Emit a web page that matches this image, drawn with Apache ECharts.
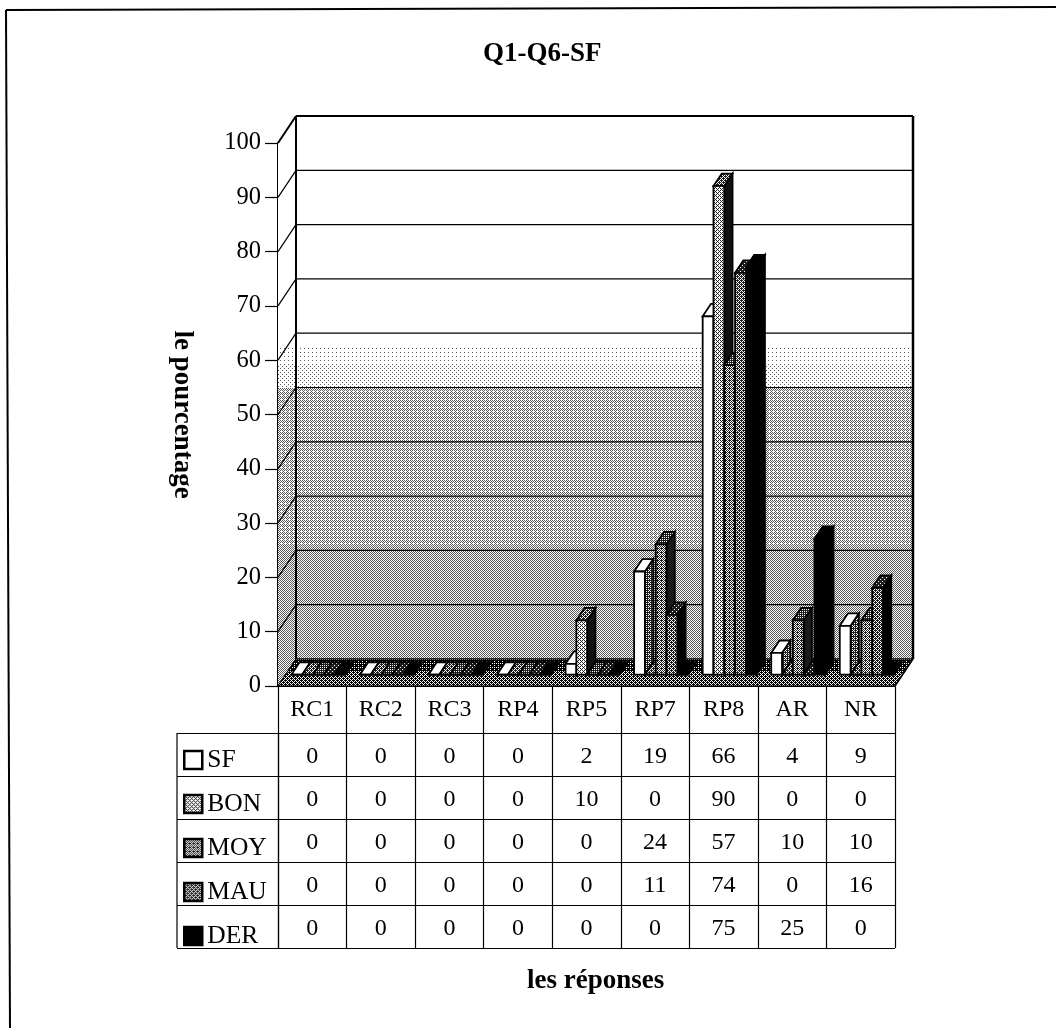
<!DOCTYPE html>
<html><head><meta charset="utf-8">
<script src="https://cdn.jsdelivr.net/npm/echarts@6/dist/echarts.min.js"></script>
<style>html,body{margin:0;padding:0;background:#fff}#c{width:1056px;height:1028px}</style>
</head><body><div id="c"></div>
<script>
const categories = ['RC1','RC2','RC3','RP4','RP5','RP7','RP8','AR','NR'];
const seriesNames = ['SF','BON','MOY','MAU','DER'];
const SF  = [0,0,0,0,2,19,66,4,9];
const BON = [0,0,0,0,10,0,90,0,0];
const MOY = [0,0,0,0,0,24,57,10,10];
const MAU = [0,0,0,0,0,11,74,0,16];
const DER = [0,0,0,0,0,0,75,25,0];
const seriesValues = [SF,BON,MOY,MAU,DER];
const yTicks = [0,10,20,30,40,50,60,70,80,90,100];

const FONT = '"Liberation Serif","Times New Roman",serif';
const BAYER = [[0,8,2,10],[12,4,14,6],[3,11,1,9],[15,7,13,5]];

// ordered-dither tile: level(y) is the average grey wanted on a page row
function ditherTile(w, h, level, dark){
  const c = document.createElement('canvas'); c.width = w; c.height = h;
  const g = c.getContext('2d'), im = g.createImageData(w,h);
  for(let y=0;y<h;y++) for(let x=0;x<w;x++){
    const p = (y*w+x)*4;
    const on = (255-level(y))/(255-dark) > (BAYER[y%4][x%4]+.5)/16;
    const val = on ? dark : 255;
    im.data[p]=im.data[p+1]=im.data[p+2]=val; im.data[p+3]=255;
  }
  g.putImageData(im,0,0);
  return {image:c, repeat:'repeat'};
}
function flat(grey){ return ditherTile(4,4,()=>grey,30); }

const wallFill = ditherTile(4,1028,y=>{
  if(y<345) return 255;
  if(y<388) return 250-(y-345)/43*22;
  if(y<660) return 188-(y-388)/272*18;
  return 170;
},90);
const floorFill = ditherTile(4,1028,y=>{
  if(y<672) return 40;
  return 90;
},0);
const faces = [
  {front:'#ffffff',  side:flat(100), top:'#ffffff'},
  {front:flat(175),  side:'#111111', top:flat(120)},
  {front:flat(130),  side:'#1a1a1a', top:flat(90)},
  {front:flat(110),  side:'#000000', top:flat(60)},
  {front:'#000000',  side:'#000000', top:'#000000'}
];

// oblique depth of the chart box
const DEPTH_X = 18, DEPTH_Y = -27;
// bars stand between these fractions of the depth
const NEAR = 0.42, FAR = 0.88;
const BAR_W = 10.8, BAR_SHIFT = 6;

function poly(points, style){ return {type:'polygon', shape:{points}, style}; }
function line(x1,y1,x2,y2,w){ return {type:'line', shape:{x1,y1,x2,y2}, style:{stroke:'#000',lineWidth:w}}; }

function renderWall(params, api){
  const cs = params.coordSys, L = cs.x, R = cs.x+cs.width;
  const T = api.coord([0,100])[1], B = api.coord([0,0])[1];
  const dx = DEPTH_X, dy = DEPTH_Y;
  const kids = [
    poly([[L+dx,T+dy],[R+dx,T+dy],[R+dx,B+dy],[L+dx,B+dy]],{fill:wallFill}),
    poly([[L,T],[L+dx,T+dy],[L+dx,B+dy],[L,B]],{fill:wallFill})
  ];
  yTicks.forEach(v=>{
    const y = api.coord([0,v])[1];
    kids.push(line(L,y,L+dx,y+dy,v===100?2:1.2));
    kids.push(line(L+dx,y+dy,R+dx,y+dy,v===100?2:1.2));
  });
  kids.push(poly([[L,B],[R,B],[R+dx,B+dy],[L+dx,B+dy]],{fill:floorFill,stroke:'#000',lineWidth:1}));
  kids.push(line(L+dx,T+dy,L+dx,B+dy,2));
  kids.push(line(R+dx,T+dy,R+dx,B+dy,2.5));
  kids.push(line(R,B,R+dx,B+dy,1.5));
  return {type:'group',children:kids};
}

function renderBar(k){
  return function(params, api){
    const i = api.value(0), v = api.value(1);
    const p = api.coord([i,v]), b = api.coord([i,0]);
    const x0 = p[0] + (k-2.5)*BAR_W + BAR_SHIFT + DEPTH_X*NEAR - 7.5;
    const x1 = x0 + BAR_W;
    const oy = DEPTH_Y*NEAR;
    const yT = p[1]+oy, yB = b[1]+oy;
    const ddx = DEPTH_X*(FAR-NEAR), ddy = DEPTH_Y*(FAR-NEAR);
    const f = faces[k], s = {stroke:'#000',lineWidth:1.8};
    return {type:'group',children:[
      poly([[x1,yT],[x1+ddx,yT+ddy],[x1+ddx,yB+ddy],[x1,yB]],Object.assign({fill:f.side},s)),
      poly([[x0,yT],[x0+ddx,yT+ddy],[x1+ddx,yT+ddy],[x1,yT]],Object.assign({fill:f.top},s)),
      {type:'rect',shape:{x:x0,y:yT,width:BAR_W,height:yB-yT},style:Object.assign({fill:f.front},s)}
    ]};
  };
}

function renderCell(params, api){
  const p = api.coord([api.value(0),api.value(1)]);
  return {type:'text',x:p[0],y:p[1]+2,style:{text:String(api.value(2)),font:'24px '+FONT,fill:'#000',align:'center',verticalAlign:'middle'}};
}

const cells = [];
seriesValues.forEach((vals,r)=>vals.forEach((v,c)=>cells.push([c,r,v])));

const chart = echarts.init(document.getElementById('c'),null,{renderer:'canvas'});
chart.setOption({
  animation:false,
  backgroundColor:'#fff',
  title:[
    {text:'Q1-Q6-SF',left:478,top:36,textStyle:{fontFamily:FONT,fontWeight:'bold',fontSize:27,color:'#000'}},
    {text:'les réponses',left:522,top:963,textStyle:{fontFamily:FONT,fontWeight:'bold',fontSize:27,color:'#000'}}
  ],
  grid:[
    {left:278,right:161,top:143,height:543},
    {left:278,right:161,top:733,height:215}
  ],
  xAxis:[
    {type:'category',gridIndex:0,data:categories,axisLabel:{show:false},axisTick:{show:false},axisLine:{lineStyle:{color:'#000',width:2}}},
    {type:'category',gridIndex:1,position:'top',data:categories,
     axisLine:{show:true,lineStyle:{color:'#000',width:1.2}},
     axisTick:{show:true,length:46,lineStyle:{color:'#000',width:1.2}},
     axisLabel:{margin:11,color:'#000',fontFamily:FONT,fontSize:24},
     splitLine:{show:true,lineStyle:{color:'#000',width:1.2}}}
  ],
  yAxis:[
    {type:'value',gridIndex:0,min:0,max:100,interval:10,
     name:'le pourcentage',nameLocation:'middle',nameRotate:-90,nameGap:83,
     nameTextStyle:{fontFamily:FONT,fontWeight:'bold',fontSize:27,color:'#000',padding:[0,0,0,0]},
     axisLine:{show:true,lineStyle:{color:'#000',width:2}},
     axisTick:{show:true,length:13,lineStyle:{color:'#000',width:1.2}},
     axisLabel:{margin:17,color:'#000',fontFamily:FONT,fontSize:24.5,padding:[4,0,0,0]},
     splitLine:{show:false}},
    {type:'category',gridIndex:1,inverse:true,data:seriesNames,
     axisLine:{show:true,lineStyle:{color:'#000',width:1.2}},
     axisTick:{show:true,length:101,lineStyle:{color:'#000',width:1.2}},
     axisLabel:{show:false},
     splitLine:{show:true,lineStyle:{color:'#000',width:1.2}}}
  ],
  legend:{
    orient:'vertical',left:183,top:747,itemWidth:18,itemHeight:18,itemGap:18,
    textStyle:{fontFamily:FONT,fontSize:25.5,color:'#000',lineHeight:25},
    selectedMode:false,padding:0,
    data:seriesNames.map((n,k)=>({name:n,icon:'rect',itemStyle:{color:faces[k].front,borderColor:'#000',borderWidth:2.5}}))
  },
  graphic:[
    {type:'line',silent:true,shape:{x1:6,y1:10,x2:10,y2:1028},style:{stroke:'#000',lineWidth:2}},
    {type:'line',silent:true,shape:{x1:6,y1:10,x2:1056,y2:7},style:{stroke:'#000',lineWidth:2}},
    {type:'line',silent:true,shape:{x1:177,y1:733,x2:177,y2:948},style:{stroke:'#000',lineWidth:1.2}}
  ],
  series:[
    {type:'custom',name:'wall',xAxisIndex:0,yAxisIndex:0,silent:true,clip:false,z:1,data:[[0,0]],renderItem:renderWall},
    ...seriesNames.map((n,k)=>({
      type:'custom',name:n,xAxisIndex:0,yAxisIndex:0,silent:true,clip:false,z:2+k,
      data:seriesValues[k].map((v,i)=>[i,v]),renderItem:renderBar(k)
    })),
    {type:'custom',name:'table',xAxisIndex:1,yAxisIndex:1,silent:true,clip:false,z:8,data:cells,
     encode:{x:0,y:1},renderItem:renderCell}
  ]
});
</script></body></html>
